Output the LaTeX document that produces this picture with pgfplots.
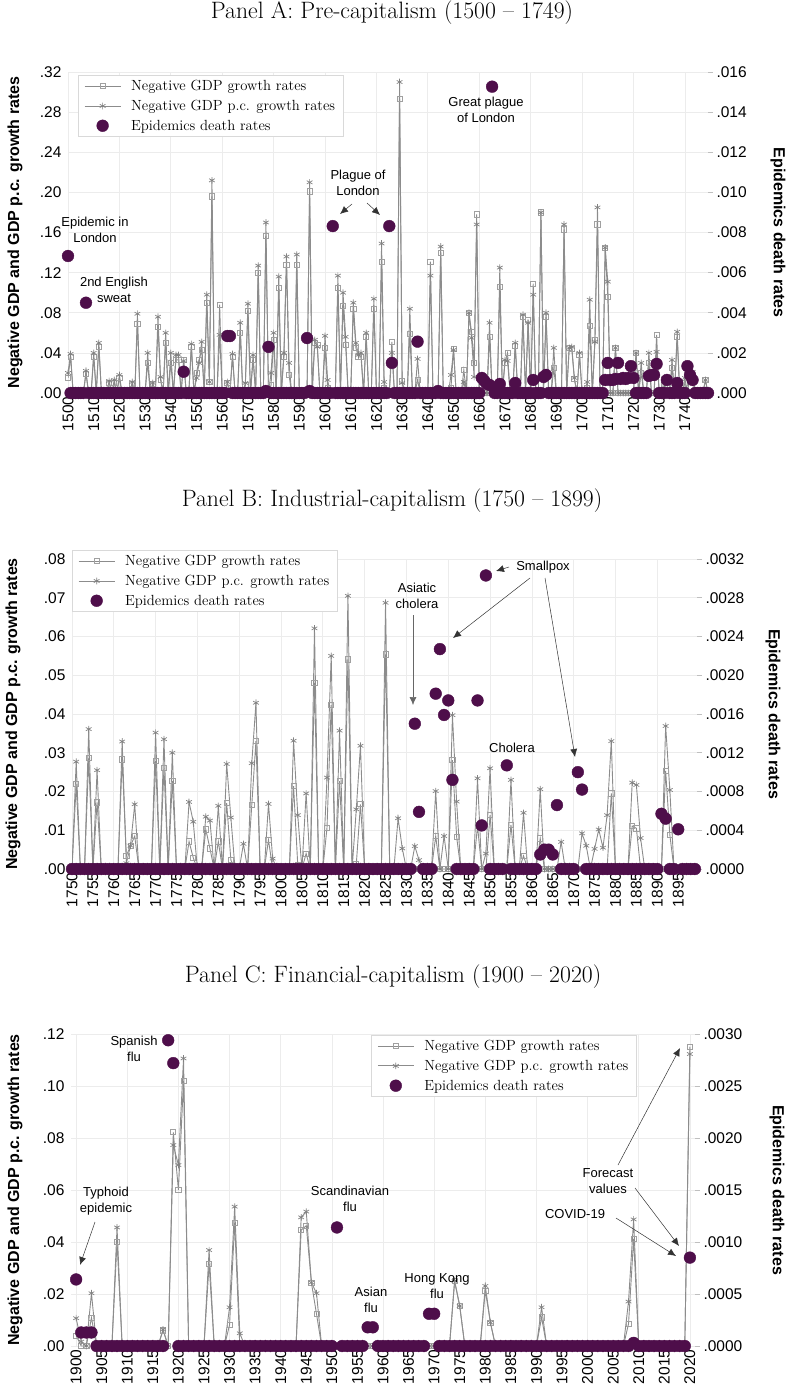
\documentclass[border=0pt]{standalone}
\usepackage{pgfplots}
\usepackage{pgfplotstable}
\usepackage{fontspec}
\pgfplotsset{compat=1.18}
\usetikzlibrary{arrows.meta}
\newfontfamily\arial{Liberation Sans}
\definecolor{epi}{RGB}{78,14,74}
\definecolor{lgray}{RGB}{140,140,140}
\definecolor{sqgray}{RGB}{160,160,160}
\definecolor{stgray}{RGB}{130,130,130}
\definecolor{gridc}{RGB}{236,236,236}

\pgfplotstableread{
year gdp pc epi
1500 .015 .020 .00683
1501 .036 .039 0
1502 0 0 0
1503 0 0 0
1504 0 0 0
1505 0 0 0
1506 0 0 0
1507 .019 .022 .00450
1508 0 0 0
1509 0 0 0
1510 .036 .040 0
1511 0 0 0
1512 .046 .050 0
1513 0 0 0
1514 0 0 0
1515 0 0 0
1516 .010 .012 0
1517 0 0 0
1518 .010 .013 0
1519 0 0 0
1520 .015 .018 0
1521 0 0 0
1522 0 0 0
1523 0 0 0
1524 0 0 0
1525 .009 .011 0
1526 0 0 0
1527 .069 .079 0
1528 0 0 0
1529 0 0 0
1530 0 0 0
1531 .030 .040 0
1532 0 0 0
1533 .009 .010 0
1534 0 0 0
1535 .066 .076 0
1536 .013 .016 0
1537 0 0 0
1538 .050 .060 0
1539 0 0 0
1540 .030 .040 0
1541 0 0 0
1542 .033 .038 0
1543 .033 .038 0
1544 0 0 0
1545 .033 .032 .00106
1546 0 0 0
1547 0 0 0
1548 .046 .049 0
1549 0 0 0
1550 .020 .015 0
1551 .033 .030 0
1552 .043 .051 0
1553 0 0 0
1554 .090 .098 0
1555 .011 .011 0
1556 .196 .212 0
1557 0 0 0
1558 0 0 0
1559 .088 .058 0
1560 0 0 0
1561 0 0 0
1562 .010 .011 .00284
1563 0 0 .00284
1564 .036 .039 0
1565 0 0 0
1566 0 0 0
1567 .060 .070 0
1568 0 0 0
1569 .008 .010 0
1570 .082 .089 0
1571 0 0 0
1572 .033 .038 0
1573 0 0 0
1574 .120 .127 0
1575 0 0 0
1576 0 0 0
1577 .157 .170 .00010
1578 0 0 .00230
1579 .008 .020 0
1580 .053 .060 0
1581 0 0 0
1582 .105 .116 0
1583 0 0 0
1584 .036 .040 0
1585 .128 .136 0
1586 .018 .030 0
1587 0 0 0
1588 0 0 0
1589 .128 .138 0
1590 0 0 0
1591 0 0 0
1592 0 0 0
1593 0 0 .00274
1594 .201 .210 .00010
1595 0 0 0
1596 .050 .053 0
1597 .048 .046 0
1598 0 0 0
1599 0 0 0
1600 .045 .057 0
1601 .005 .013 0
1602 0 0 0
1603 0 0 .00832
1604 0 0 0
1605 .105 .117 0
1606 0 0 0
1607 .087 .100 0
1608 .048 .056 0
1609 0 0 0
1610 0 0 0
1611 .084 .090 0
1612 .045 .050 0
1613 .036 .038 0
1614 .036 .040 0
1615 0 0 0
1616 .056 .060 0
1617 0 0 0
1618 0 0 0
1619 .084 .094 0
1620 0 0 0
1621 0 0 0
1622 .131 .149 0
1623 .005 .011 0
1624 0 0 0
1625 0 0 .00832
1626 .051 .040 .00150
1627 0 0 0
1628 0 0 0
1629 .293 .310 0
1630 .012 .010 0
1631 0 0 0
1632 0 0 0
1633 .059 .084 0
1634 0 0 0
1635 0 0 0
1636 .013 .034 .00256
1637 0 0 0
1638 0 0 0
1639 0 0 0
1640 0 0 0
1641 .131 .117 0
1642 0 0 0
1643 0 0 0
1644 0 0 .00010
1645 .140 .146 0
1646 0 0 0
1647 0 0 0
1648 0 0 0
1649 .005 .018 0
1650 .044 .043 0
1651 0 0 0
1652 0 0 0
1653 0 0 0
1654 .023 .011 0
1655 0 0 0
1656 .080 .080 0
1657 .061 .055 0
1658 .030 .016 0
1659 .178 .168 0
1660 0 0 0
1661 0 0 .00075
1662 0 0 .00060
1663 0 0 .00045
1664 .056 .070 .00040
1665 0 0 .01527
1666 0 0 0
1667 0 0 0
1668 .106 .125 .00045
1669 0 0 0
1670 .030 .033 0
1671 .040 .032 0
1672 0 0 0
1673 0 0 0
1674 .047 .050 .00050
1675 0 0 0
1676 0 0 0
1677 .076 .078 0
1678 0 0 0
1679 .073 .070 0
1680 0 0 0
1681 .109 .098 .00065
1682 0 0 0
1683 0 0 0
1684 .180 .180 0
1685 0 0 .00080
1686 .076 .080 .00090
1687 0 0 0
1688 0 0 0
1689 .025 .045 0
1690 0 0 0
1691 0 0 0
1692 0 0 0
1693 .163 .168 0
1694 0 0 0
1695 .045 .045 0
1696 .044 .046 0
1697 .014 .015 0
1698 0 0 0
1699 .038 .040 0
1700 0 0 0
1701 0 0 0
1702 .005 .011 0
1703 .067 .093 0
1704 0 0 0
1705 .053 .051 0
1706 .168 .185 0
1707 0 0 0
1708 0 0 0
1709 .145 .145 .00065
1710 .096 .111 .00150
1711 0 0 .00065
1712 0 0 .00065
1713 .045 .045 .00070
1714 0 0 .00150
1715 0 0 .00070
1716 0 0 .00075
1717 0 0 .00070
1718 0 0 .00075
1719 0 0 .00134
1720 0 0 .00075
1721 .040 .040 0
1722 0 0 0
1723 .020 .030 0
1724 0 0 0
1725 0 0 0
1726 .030 .040 .00085
1727 0 0 .00090
1728 0 0 .00090
1729 .058 .041 .00145
1730 0 0 0
1731 0 0 0
1732 .008 .015 0
1733 0 0 .00065
1734 0 0 0
1735 .025 .033 0
1736 0 0 0
1737 .056 .061 .00050
1738 0 0 0
1739 0 0 0
1740 .010 .015 0
1741 0 0 .00134
1742 .020 .023 .00090
1743 .012 .021 .00065
1744 0 0 0
1745 0 0 0
1746 0 0 0
1747 0 0 0
1748 .013 .013 0
1749 0 0 0
}\dataA

\pgfplotstableread{
year gdp pc epi
1750 0 0 0
1751 .0219 .0277 0
1752 0 0 0
1753 0 0 0
1754 .0286 .0361 0
1755 0 0 0
1756 .0172 .0255 0
1757 0 0 0
1758 0 0 0
1759 0 0 0
1760 0 0 0
1761 0 0 0
1762 .0283 .0329 0
1763 .0034 .0015 0
1764 .0060 .0060 0
1765 .0085 .0167 0
1766 0 0 0
1767 0 0 0
1768 0 0 0
1769 0 0 0
1770 .0279 .0352 0
1771 0 0 0
1772 .0260 .0335 0
1773 0 0 0
1774 .0227 .0300 0
1775 0 0 0
1776 0 0 0
1777 0 0 0
1778 .0071 .0173 0
1779 .0029 .0122 0
1780 0 0 0
1781 0 0 0
1782 .0102 .0135 0
1783 .0053 .0125 0
1784 0 0 0
1785 .0071 .0163 0
1786 0 0 0
1787 .0170 .0271 0
1788 .0023 .0133 0
1789 0 0 0
1790 0 0 0
1791 0 .0065 0
1792 0 0 0
1793 .0165 .0273 0
1794 .0330 .0429 0
1795 0 0 0
1796 0 0 0
1797 .0075 .0168 0
1798 0 .0027 0
1799 0 0 0
1800 0 0 0
1801 0 0 0
1802 0 0 0
1803 .0214 .0331 0
1804 .0010 .0139 0
1805 0 0 0
1806 .0040 .0195 0
1807 0 0 0
1808 .0481 .0621 0
1809 0 0 0
1810 0 0 0
1811 .0107 .0236 0
1812 .0423 .0550 0
1813 0 0 0
1814 .0227 .0357 0
1815 0 0 0
1816 .0541 .0705 0
1817 0 0 0
1818 .0012 .0154 0
1819 .0167 .0318 0
1820 0 0 0
1821 0 0 0
1822 0 0 0
1823 0 0 0
1824 0 0 0
1825 .0554 .0687 0
1826 0 0 0
1827 0 0 0
1828 0 .0131 0
1829 0 .0053 0
1830 0 0 0
1831 0 0 0
1832 0 .0059 .00150
1833 0 .0023 .00059
1834 0 0 0
1835 0 0 0
1836 0 0 0
1837 .0085 .0201 .00181
1838 0 0 .00227
1839 0 .0085 .00159
1840 0 0 .00174
1841 .0281 .0397 .00092
1842 .0083 .0174 0
1843 0 0 0
1844 0 0 0
1845 0 0 0
1846 0 0 0
1847 .0111 .0234 .00174
1848 0 0 .00045
1849 0 .0040 .00303
1850 .0139 .0260 0
1851 0 0 0
1852 0 0 0
1853 0 0 0
1854 0 0 .00107
1855 .0114 .0230 0
1856 0 0 0
1857 0 0 0
1858 .0034 .0145 0
1859 0 0 0
1860 0 0 0
1861 0 0 0
1862 .0079 .0206 .00015
1863 0 0 .00020
1864 0 0 .00020
1865 0 0 .00015
1866 0 0 .00066
1867 0 .0070 0
1868 0 0 0
1869 0 0 0
1870 0 0 0
1871 0 0 .00100
1872 0 .0092 .00082
1873 0 .0060 0
1874 0 0 0
1875 0 .0052 0
1876 0 .0102 0
1877 0 .0055 0
1878 0 .0139 0
1879 .0195 .0330 0
1880 0 0 0
1881 0 0 0
1882 0 0 0
1883 0 0 0
1884 .0111 .0223 0
1885 .0105 .0217 0
1886 0 .0080 0
1887 0 0 0
1888 0 0 0
1889 0 0 0
1890 0 0 0
1891 0 0 .00057
1892 .0253 .0369 .00052
1893 .0088 .0204 0
1894 0 0 0
1895 0 0 .00041
1896 0 0 0
1897 0 0 0
1898 0 0 0
1899 0 0 0
}\dataB

\pgfplotstableread{
year gdp pc epi
1900 .0040 .0107 .00064
1901 0 .0017 .00013
1902 0 0 .00013
1903 .0109 .0203 .00013
1904 0 0 0
1905 0 0 0
1906 0 0 0
1907 0 0 0
1908 .0401 .0456 0
1909 0 0 0
1910 0 0 0
1911 0 0 0
1912 0 0 0
1913 0 0 0
1914 0 0 0
1915 0 0 0
1916 0 0 0
1917 .0060 .0064 0
1918 0 0 .00294
1919 .0822 .0773 .00272
1920 .0600 .0696 0
1921 .1019 .1106 0
1922 0 0 0
1923 0 0 0
1924 0 0 0
1925 0 0 0
1926 .0315 .0369 0
1927 0 0 0
1928 0 0 0
1929 0 0 0
1930 .0081 .0149 0
1931 .0474 .0536 0
1932 0 .0049 0
1933 0 0 0
1934 0 0 0
1935 0 0 0
1936 0 0 0
1937 0 0 0
1938 0 0 0
1939 0 0 0
1940 0 0 0
1941 0 0 0
1942 0 0 0
1943 0 0 0
1944 .0446 .0495 0
1945 .0463 .0517 0
1946 .0244 .0244 0
1947 .0123 .0203 0
1948 0 0 0
1949 0 0 0
1950 0 0 0
1951 0 0 .00114
1952 0 0 0
1953 0 0 0
1954 0 0 0
1955 0 0 0
1956 0 0 0
1957 0 0 .00018
1958 0 0 .00018
1959 0 0 0
1960 0 0 0
1961 0 0 0
1962 0 0 0
1963 0 0 0
1964 0 0 0
1965 0 0 0
1966 0 0 0
1967 0 0 0
1968 0 0 0
1969 0 0 .00031
1970 0 0 .00031
1971 0 0 0
1972 0 0 0
1973 0 0 0
1974 .0250 .0250 0
1975 .0154 .0154 0
1976 0 0 0
1977 0 0 0
1978 0 0 0
1979 0 0 0
1980 .0213 .0231 0
1981 .0090 .0090 0
1982 0 0 0
1983 0 0 0
1984 0 0 0
1985 0 0 0
1986 0 0 0
1987 0 0 0
1988 0 0 0
1989 0 0 0
1990 0 0 0
1991 .0110 .0149 0
1992 0 0 0
1993 0 0 0
1994 0 0 0
1995 0 0 0
1996 0 0 0
1997 0 0 0
1998 0 0 0
1999 0 0 0
2000 0 0 0
2001 0 0 0
2002 0 0 0
2003 0 0 0
2004 0 0 0
2005 0 0 0
2006 0 0 0
2007 0 0 0
2008 .0085 .0171 0
2009 .0412 .0487 .00003
2010 0 0 0
2011 0 0 0
2012 0 0 0
2013 0 0 0
2014 0 0 0
2015 0 0 0
2016 0 0 0
2017 0 0 0
2018 0 0 0
2019 0 0 0
2020 .1151 .1123 .00085
}\dataC

\pgfplotsset{
  gdpstyle/.style={color=lgray, line width=0.9pt, mark=square, mark size=2.6pt,
    mark options={draw=sqgray, fill=white, line width=0.8pt}},
  pcstyle/.style={color=lgray, line width=0.9pt, mark=asterisk, mark size=3.3pt,
    mark options={draw=stgray, line width=0.7pt}},
  epistyle/.style={only marks, mark=*, mark size=5.9pt, mark options={draw=epi, fill=epi},
    legend image code/.code={\draw[##1] plot coordinates {(18pt,0pt)};}},
  leftaxis/.style={scale only axis, anchor=south west, ymin=0,
    scaled y ticks=false, scaled x ticks=false,
    axis line style={draw=none}, major tick length=0pt,
    tick label style={font=\arial\fontsize{15.5}{18}\selectfont},
    xticklabel style={rotate=90, anchor=east, /pgf/number format/1000 sep={},
      /pgf/number format/assume math mode=true},
    yticklabel style={xshift=-3pt},
    ymajorgrids, grid style={draw=gridc, line width=0.7pt},
    extra x tick labels={}, extra x tick style={grid=major}},
  rightaxis/.style={scale only axis, anchor=south west, ymin=0,
    scaled y ticks=false, scaled x ticks=false,
    hide x axis, axis y line*=right, axis line style={draw=none},
    tick align=outside, major tick length=5pt,
    ytick style={draw=black!25, line width=0.6pt},
    tick label style={font=\arial\fontsize{15.5}{18}\selectfont},
    yticklabel style={anchor=west},
    legend cell align=left,
    legend image code/.code={\draw[#1,mark=none] (0pt,0pt) -- (36pt,0pt); \draw[#1] plot coordinates {(18pt,0pt)};},
    legend style={draw=black!15, fill=white, font=\fontsize{14.7}{17}\selectfont,
      inner xsep=6pt, inner ysep=3pt, row sep=4pt,
      /tikz/every odd column/.append style={column sep=8pt}}},
}
\tikzset{ann/.style={font=\arial\fontsize{13}{16}\selectfont, align=center, inner sep=0pt},
  arr/.style={-{Latex[length=8pt,width=7pt]}, line width=0.5pt, black!80},
  ttl/.style={font=\fontsize{23.7}{28}\selectfont, anchor=base, inner sep=0pt},
  ylab/.style={font=\arial\bfseries\fontsize{16}{19}\selectfont, inner sep=0pt}}

\begin{document}
\begin{tikzpicture}
\useasboundingbox (0pt,0pt) rectangle (787pt,-1388pt);

% ---------------- Panel A ----------------
\node[ttl] at (392pt,-19pt) {Panel A: Pre-capitalism (1500 -- 1749)};
\begin{axis}[leftaxis, at={(68pt,-393pt)}, width=640pt, height=321pt,
  xmin=1500, xmax=1749, ymax=0.32,
  xtick={1500,1510,...,1740},
  ytick={0,0.04,0.08,0.12,0.16,0.20,0.24,0.28,0.32},
  yticklabels={.00,.04,.08,.12,.16,.20,.24,.28,.32},
  extra x ticks={1500,1520,...,1740}]
\addplot[gdpstyle] table[x=year,y=gdp]{\dataA};
\addplot[pcstyle] table[x=year,y=pc]{\dataA};
\end{axis}
\begin{axis}[rightaxis, at={(68pt,-393pt)}, width=640pt, height=321pt,
  xmin=1500, xmax=1749, ymax=0.016,
  ytick={0,0.002,0.004,0.006,0.008,0.010,0.012,0.014,0.016},
  yticklabels={.000,.002,.004,.006,.008,.010,.012,.014,.016},
  legend style={at={(0.0156,0.9907)}, anchor=north west}]
\addlegendimage{gdpstyle}
\addlegendimage{pcstyle}
\addplot[epistyle] table[x=year,y=epi]{\dataA};
\legend{Negative GDP growth rates, Negative GDP p.c. growth rates, Epidemics death rates}
\end{axis}
\node[ylab, rotate=90] at (15pt,-232.5pt) {Negative GDP and GDP p.c. growth rates};
\node[ylab, rotate=-90] at (778pt,-232.5pt) {Epidemics death rates};
\node[ann] at (95pt,-230pt) {Epidemic in\\London};
\node[ann] at (114pt,-290pt) {2nd English\\sweat};
\node[ann] at (358pt,-183pt) {Plague of\\London};
\draw[arr] (352pt,-204pt) -- (340pt,-214pt);
\draw[arr] (367pt,-203pt) -- (380pt,-215pt);
\node[ann] at (486pt,-110pt) {Great plague\\of London};

% ---------------- Panel B ----------------
\node[ttl] at (392pt,-506pt) {Panel B: Industrial-capitalism (1750 -- 1899)};
\begin{axis}[leftaxis, at={(72pt,-869pt)}, width=625pt, height=310pt,
  xmin=1750, xmax=1899.5, ymax=0.08,
  xtick={1750,1755,...,1895},
  ytick={0,0.01,0.02,0.03,0.04,0.05,0.06,0.07,0.08},
  yticklabels={.00,.01,.02,.03,.04,.05,.06,.07,.08},
  extra x ticks={1750,1760,...,1890}]
\addplot[gdpstyle] table[x=year,y=gdp]{\dataB};
\addplot[pcstyle] table[x=year,y=pc]{\dataB};
\end{axis}
\begin{axis}[rightaxis, at={(72pt,-869pt)}, width=625pt, height=310pt,
  xmin=1750, xmax=1899.5, ymax=0.0032,
  ytick={0,0.0004,0.0008,0.0012,0.0016,0.0020,0.0024,0.0028,0.0032},
  yticklabels={.0000,.0004,.0008,.0012,.0016,.0020,.0024,.0028,.0032},
  legend style={at={(0,1.029)}, anchor=north west}]
\addlegendimage{gdpstyle}
\addlegendimage{pcstyle}
\addplot[epistyle] table[x=year,y=epi]{\dataB};
\legend{Negative GDP growth rates, Negative GDP p.c. growth rates, Epidemics death rates}
\end{axis}
\node[ylab, rotate=90] at (13pt,-714pt) {Negative GDP and GDP p.c. growth rates};
\node[ylab, rotate=-90] at (773pt,-714pt) {Epidemics death rates};
\node[ann] at (417pt,-596pt) {Asiatic\\cholera};
\draw[arr, black!60] (413pt,-615pt) -- (413pt,-705pt);
\node[ann] at (543pt,-567pt) {Smallpox};
\draw[arr] (509pt,-567pt) -- (496pt,-571pt);
\draw[arr] (530pt,-578pt) -- (453pt,-638pt);
\draw[arr] (545pt,-578pt) -- (575pt,-757pt);
\node[ann] at (512pt,-748pt) {Cholera};

% ---------------- Panel C ----------------
\node[ttl] at (393pt,-982pt) {Panel C: Financial-capitalism (1900 -- 2020)};
\begin{axis}[leftaxis, at={(71pt,-1346pt)}, width=624pt, height=312pt,
  xmin=1899, xmax=2021, ymax=0.12,
  xtick={1900,1905,...,2020},
  ytick={0,0.02,0.04,0.06,0.08,0.10,0.12},
  yticklabels={.00,.02,.04,.06,.08,.10,.12},
  extra x ticks={1900,1910,...,2020}]
\addplot[gdpstyle] table[x=year,y=gdp]{\dataC};
\addplot[pcstyle] table[x=year,y=pc]{\dataC};
\end{axis}
\begin{axis}[rightaxis, at={(71pt,-1346pt)}, width=624pt, height=312pt,
  xmin=1899, xmax=2021, ymax=0.003,
  ytick={0,0.0005,0.0010,0.0015,0.0020,0.0025,0.0030},
  yticklabels={.0000,.0005,.0010,.0015,.0020,.0025,.0030},
  legend style={at={(0.481,0.997)}, anchor=north west}]
\addlegendimage{gdpstyle}
\addlegendimage{pcstyle}
\addplot[epistyle] table[x=year,y=epi]{\dataC};
\legend{Negative GDP growth rates, Negative GDP p.c. growth rates, Epidemics death rates}
\end{axis}
\node[ylab, rotate=90] at (15pt,-1190pt) {Negative GDP and GDP p.c. growth rates};
\node[ylab, rotate=-90] at (777pt,-1190pt) {Epidemics death rates};
\node[ann] at (106pt,-1201pt) {Typhoid\\epidemic};
\draw[arr] (95pt,-1222pt) -- (80pt,-1265pt);
\node[ann] at (134pt,-1049pt) {Spanish\\flu};
\node[ann] at (350pt,-1199pt) {Scandinavian\\flu};
\node[ann] at (371pt,-1300pt) {Asian\\flu};
\node[ann] at (437pt,-1286pt) {Hong Kong\\flu};
\node[ann] at (608pt,-1181pt) {Forecast\\values};
\node[ann] at (575pt,-1214pt) {COVID-19};
\draw[arr] (618pt,-1165pt) -- (680pt,-1048pt);
\draw[arr] (635pt,-1188pt) -- (679pt,-1246pt);
\draw[arr] (616pt,-1218pt) -- (676pt,-1256pt);
\end{tikzpicture}
\end{document}
